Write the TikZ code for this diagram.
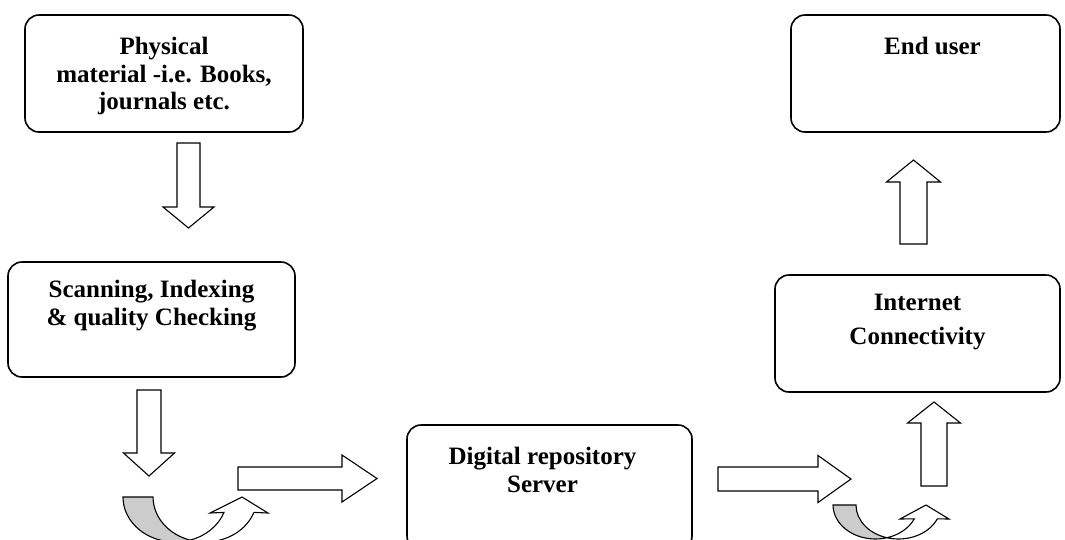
\documentclass[tikz,border=0pt]{standalone}
\usepackage{fontspec}
\setmainfont{Liberation Serif}
\usepackage{tikz}
\usetikzlibrary{positioning}

% hollow block arrow: tail, direction, length, head length, half shaft, half head
\newcommand{\blockarrow}[6]{%
	\draw[hollow, shift={(#1)}, rotate=#2] (0, -#5) -- ({#3-#4}, -#5) -- ({#3-#4}, -#6) -- (#3, 0) -- ({#3-#4}, #6) -- ({#3-#4}, #5) -- (0, #5) -- cycle;}

\begin{document}
\begin{tikzpicture}[x=1pt, y=1pt,
		stage/.style={rectangle, draw=black, line width=1.6pt, rounded corners=14pt, inner sep=0pt, minimum height=117pt},
		txt/.style={inner sep=0pt, align=center, font=\fontsize{25}{27.5}\selectfont\bfseries},
		hollow/.style={draw=black, line width=1.1pt, fill=white, line join=miter},
		back/.style={draw=black, line width=1.1pt, fill=gray!40}]
		
		\useasboundingbox (0, 0) rectangle (1065, -539);
		
		% the five steps
		\node[stage, minimum width=278pt] (phys) at (164, -73.5) {};
		\node[stage, minimum width=287pt, minimum height=115pt] (scan) at (151.5, -319.5) {};
		\node[stage, minimum width=285pt, minimum height=125pt] (repo) at (549.5, -487.5) {};
		\node[stage, minimum width=285pt] (net) at (917.5, -333.5) {};
		\node[stage, minimum width=269pt] (user) at (925.5, -73.5) {};
		
		\node[txt, below=23pt of phys.north] (physT) {Physical\\material -i.e. Books,\\journals etc.};
		\node[txt, below=19pt of scan.north] (scanT) {Scanning, Indexing\\\& quality Checking};
		\node[txt, below=23pt of repo.north, xshift=-7pt] (repoT) {Digital repository\\Server};
		\node[txt, below=20pt of net.north] (netT) {Internet\\[6pt]Connectivity};
		\node[txt, below=23pt of user.north, xshift=7pt] (userT) {End user};
		
		% straight arrows
		\coordinate (d1) at (188.5, -143);
		\coordinate (d2) at (149, -390);
		\coordinate (r1) at (238, -478.5);
		\coordinate (r2) at (718, -479);
		\coordinate (u2) at (934, -486);
		\coordinate (u1) at (913.5, -244);
		\blockarrow{d1}{-90}{85}{21}{11.5}{25.5}
		\blockarrow{d2}{-90}{86}{23}{12}{25.5}
		\blockarrow{r1}{0}{139}{35}{11.5}{23.5}
		\blockarrow{r2}{0}{133}{33}{12}{23.5}
		\blockarrow{u2}{90}{84}{21}{13}{26.5}
		\blockarrow{u1}{90}{84}{22}{13.5}{27}
		
		% u-turn under the scanning step
		\draw[back] (123, -497) arc[start angle=180, end angle=286.8, x radius=52, y radius=45] coordinate (turnA) arc[start angle=253.2, end angle=180, x radius=52, y radius=45] -- cycle;
		\draw[hollow] (turnA) arc[start angle=253.2, end angle=340, x radius=52, y radius=45] -- (268, -513) -- (242, -497) -- (210, -513) -- ++(14, 0.6) arc[start angle=340, end angle=286.8, x radius=52, y radius=45] -- cycle;
		
		% u-turn after the server
		\draw[back] (833, -505) arc[start angle=180, end angle=285.7, x radius=42.5, y radius=34] coordinate (turnB) arc[start angle=254.3, end angle=180, x radius=42.5, y radius=34] -- cycle;
		\draw[hollow] (turnB) arc[start angle=254.3, end angle=336, x radius=42.5, y radius=34] -- (949, -519) -- (926, -505) -- (900, -519) -- ++(14.3, 0.2) arc[start angle=336, end angle=285.7, x radius=42.5, y radius=34] -- cycle;
		
	\end{tikzpicture}
\end{document}
